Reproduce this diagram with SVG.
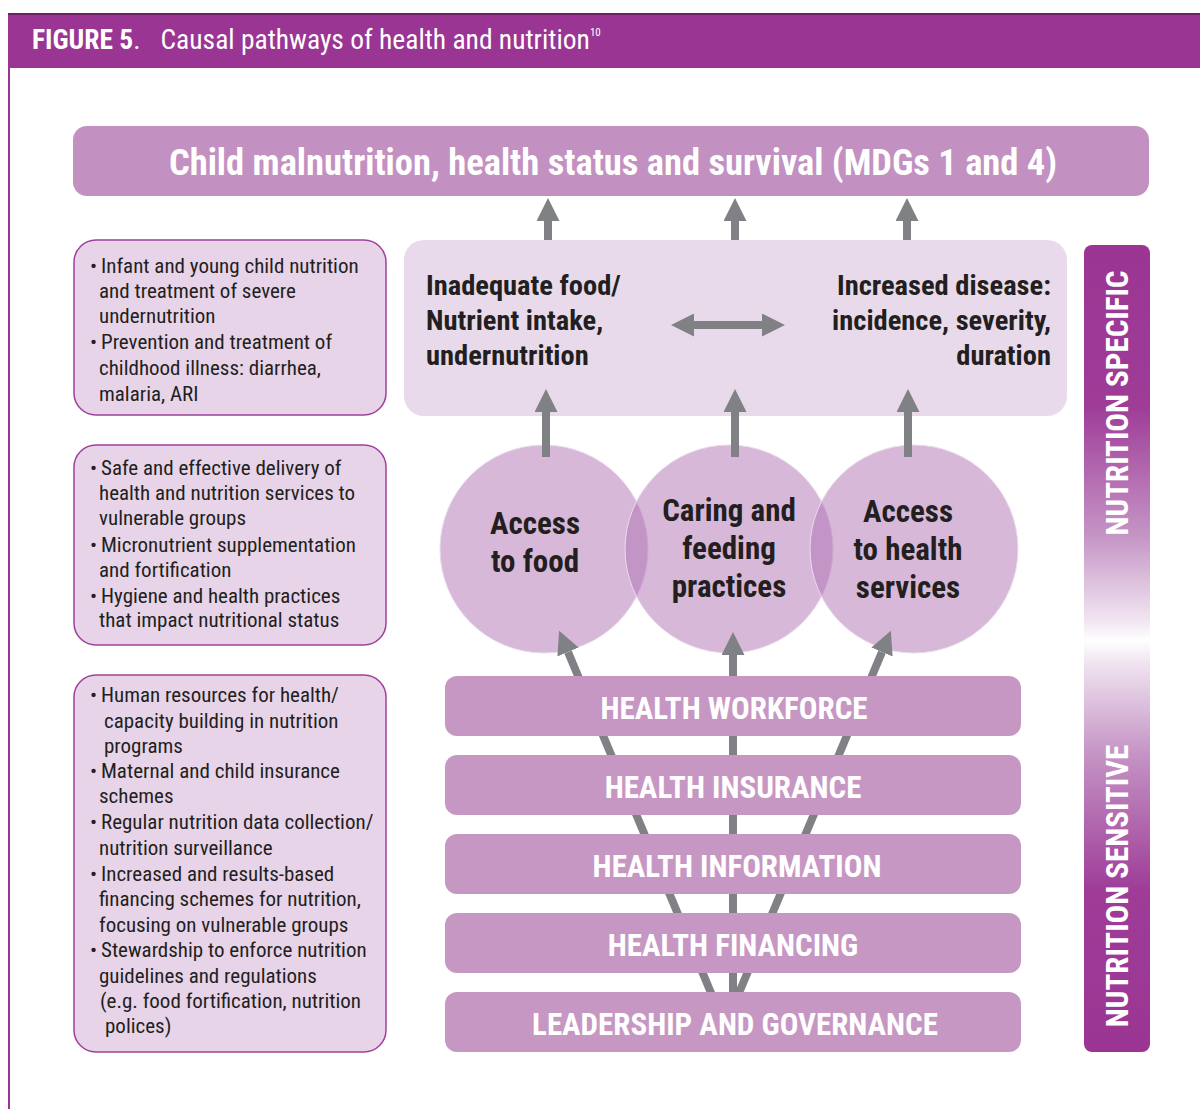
<svg xmlns="http://www.w3.org/2000/svg" width="1200" height="1109" viewBox="0 0 1200 1109">
<style>
text{font-family:"Roboto Condensed","Liberation Sans Narrow","DejaVu Sans Condensed",Roboto,sans-serif;font-stretch:condensed}
.hd{fill:#fff;font-size:27.5px}
.tb{fill:#fff;font-size:36.5px;font-weight:bold}
.mid{fill:#231f20;font-size:28.5px;font-weight:bold}
.cir{fill:#231f20;font-size:31px;font-weight:bold;text-anchor:middle}
.bar{fill:#c797c4}
.bt{fill:#fff;font-size:31px;font-weight:bold;text-anchor:middle}
.lb{fill:#e7d4e9;stroke:#a0409c;stroke-width:1.5}
.lt{fill:#231f20;font-size:21px}
.side{fill:#fff;font-size:31px;font-weight:bold;text-anchor:middle}
.ar{stroke:#808184;stroke-width:8;fill:none;marker-end:url(#ah)}
.circ{fill:#af71b3;fill-opacity:0.5;stroke:#eadcec;stroke-width:1}
</style>
<defs>
<marker id="ah" viewBox="0 0 23 23" markerWidth="23" markerHeight="23" markerUnits="userSpaceOnUse" refX="0" refY="11.5" orient="auto-start-reverse">
<path d="M0,0 L23,11.5 L0,23 z" fill="#808184"/>
</marker>
<linearGradient id="sg" x1="0" y1="0" x2="0" y2="1">
<stop offset="0" stop-color="#9b3593"/>
<stop offset="0.2" stop-color="#9e3c98"/>
<stop offset="0.36" stop-color="#c594c5"/>
<stop offset="0.47" stop-color="#f3e9f3"/>
<stop offset="0.49" stop-color="#ffffff"/>
<stop offset="0.52" stop-color="#efe2ef"/>
<stop offset="0.63" stop-color="#c594c5"/>
<stop offset="0.8" stop-color="#9e3c98"/>
<stop offset="1" stop-color="#9b3593"/>
</linearGradient>
</defs>
<rect width="1200" height="1109" fill="#fff"/>
<g id="header">
<rect x="8" y="13" width="1192" height="2" fill="#6e1f6a"/>
<rect x="8" y="15" width="1192" height="53" fill="#9b3593"/>
<rect x="8" y="15" width="2" height="1094" fill="#9b3593"/>
<text x="32" y="49" class="hd"><tspan font-weight="bold">FIGURE 5</tspan>.<tspan dx="20">Causal pathways of health and nutrition</tspan><tspan font-size="11" dy="-13">10</tspan></text>
</g>
<g id="outcome">
<rect x="73" y="126" width="1076" height="70" rx="14" fill="#c291c1"/>
<text x="613" y="175" class="tb" text-anchor="middle">Child malnutrition, health status and survival (MDGs 1 and 4)</text>
</g>
<g id="immediate">
<rect x="404" y="240" width="663" height="176" rx="20" fill="#e8daeb"/>
<text class="mid" x="426" y="295">Inadequate food/</text>
<text class="mid" x="426" y="330">Nutrient intake,</text>
<text class="mid" x="426" y="365">undernutrition</text>
<text class="mid" x="1051" y="295" text-anchor="end">Increased disease:</text>
<text class="mid" x="1051" y="330" text-anchor="end">incidence, severity,</text>
<text class="mid" x="1051" y="365" text-anchor="end">duration</text>
</g>
<g id="circle-food">
<circle class="circ" cx="544" cy="549" r="104"/>
<text class="cir" x="535" y="534">Access</text>
<text class="cir" x="535" y="572">to food</text>
</g>
<g id="circle-caring">
<circle class="circ" cx="729" cy="549" r="104"/>
<text class="cir" x="729" y="521">Caring and</text>
<text class="cir" x="729" y="559">feeding</text>
<text class="cir" x="729" y="597">practices</text>
</g>
<g id="circle-health">
<circle class="circ" cx="914" cy="549" r="104"/>
<text class="cir" x="908" y="522">Access</text>
<text class="cir" x="908" y="560">to health</text>
<text class="cir" x="908" y="598">services</text>
</g>
<g id="connectors">
<path class="ar" d="M548,240 V221"/>
<path class="ar" d="M735,240 V221"/>
<path class="ar" d="M907,240 V221"/>
<path class="ar" d="M546,457 V412"/>
<path class="ar" d="M735,457 V412"/>
<path class="ar" d="M908,457 V412"/>
<path class="ar" d="M694,325 H762" marker-start="url(#ah)"/>
<path class="ar" d="M714,1000 L568,652"/>
<path class="ar" d="M733,1000 V655"/>
<path class="ar" d="M736,1000 L882,652"/>
</g>
<g id="bar-workforce">
<rect class="bar" x="445" y="676" width="576" height="60" rx="12"/>
<text class="bt" x="734" y="719">HEALTH WORKFORCE</text>
</g>
<g id="bar-insurance">
<rect class="bar" x="445" y="755" width="576" height="60" rx="12"/>
<text class="bt" x="733" y="798">HEALTH INSURANCE</text>
</g>
<g id="bar-information">
<rect class="bar" x="445" y="834" width="576" height="60" rx="12"/>
<text class="bt" x="737" y="877">HEALTH INFORMATION</text>
</g>
<g id="bar-financing">
<rect class="bar" x="445" y="913" width="576" height="60" rx="12"/>
<text class="bt" x="733" y="956">HEALTH FINANCING</text>
</g>
<g id="bar-leadership">
<rect class="bar" x="445" y="992" width="576" height="60" rx="12"/>
<text class="bt" x="735" y="1035">LEADERSHIP AND GOVERNANCE</text>
</g>
<g id="box-specific">
<rect class="lb" x="74" y="240" width="312" height="175" rx="22"/>
<text class="lt" x="90" y="273">•</text><text class="lt" x="101" y="273">Infant and young child nutrition</text>
<text class="lt" x="99" y="298">and treatment of severe</text>
<text class="lt" x="99" y="323">undernutrition</text>
<text class="lt" x="90" y="349">•</text><text class="lt" x="101" y="349">Prevention and treatment of</text>
<text class="lt" x="99" y="375">childhood illness: diarrhea,</text>
<text class="lt" x="99" y="401">malaria, ARI</text>
</g>
<g id="box-delivery">
<rect class="lb" x="74" y="445" width="312" height="200" rx="22"/>
<text class="lt" x="90" y="475">•</text><text class="lt" x="101" y="475">Safe and effective delivery of</text>
<text class="lt" x="99" y="500">health and nutrition services to</text>
<text class="lt" x="99" y="525">vulnerable groups</text>
<text class="lt" x="90" y="552">•</text><text class="lt" x="101" y="552">Micronutrient supplementation</text>
<text class="lt" x="99" y="577">and fortification</text>
<text class="lt" x="90" y="603">•</text><text class="lt" x="101" y="603">Hygiene and health practices</text>
<text class="lt" x="99" y="627">that impact nutritional status</text>
</g>
<g id="box-systems">
<rect class="lb" x="74" y="675" width="312" height="377" rx="22"/>
<text class="lt" x="90" y="702">•</text><text class="lt" x="101" y="702">Human resources for health/</text>
<text class="lt" x="104" y="728">capacity building in nutrition</text>
<text class="lt" x="104" y="753">programs</text>
<text class="lt" x="90" y="778">•</text><text class="lt" x="101" y="778">Maternal and child insurance</text>
<text class="lt" x="99" y="803">schemes</text>
<text class="lt" x="90" y="829">•</text><text class="lt" x="101" y="829">Regular nutrition data collection/</text>
<text class="lt" x="99" y="855">nutrition surveillance</text>
<text class="lt" x="90" y="881">•</text><text class="lt" x="101" y="881">Increased and results-based</text>
<text class="lt" x="99" y="906">financing schemes for nutrition,</text>
<text class="lt" x="99" y="932">focusing on vulnerable groups</text>
<text class="lt" x="90" y="957">•</text><text class="lt" x="101" y="957">Stewardship to enforce nutrition</text>
<text class="lt" x="99" y="983">guidelines and regulations</text>
<text class="lt" x="100" y="1008">(e.g. food fortification, nutrition</text>
<text class="lt" x="105" y="1033">polices)</text>
</g>
<g id="side-bar">
<rect x="1084" y="245" width="66" height="807" rx="8" fill="url(#sg)"/>
<text class="side" transform="translate(1128,403) rotate(-90)">NUTRITION SPECIFIC</text>
<text class="side" transform="translate(1128,886) rotate(-90)">NUTRITION SENSITIVE</text>
</g>
</svg>
